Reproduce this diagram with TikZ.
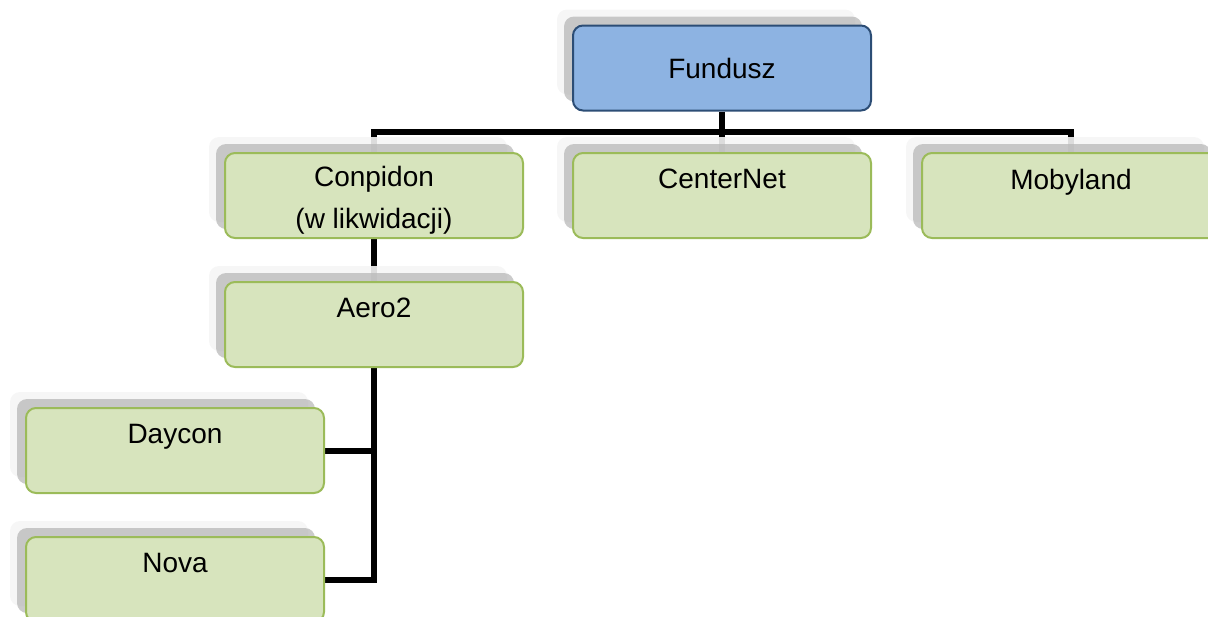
\documentclass[tikz,border=0pt]{standalone}
\usepackage{fontspec}
\setmainfont{Liberation Sans}
\usetikzlibrary{shadows,backgrounds}
\definecolor{fundfill}{HTML}{8DB3E2}
\definecolor{funddraw}{HTML}{2C4D75}
\definecolor{unitfill}{HTML}{D7E4BD}
\definecolor{unitdraw}{HTML}{9BBB59}
\tikzset{
 orgbox/.style={rounded corners=5pt,line width=1pt,inner sep=0pt,
   minimum width=149pt,minimum height=42.5pt,align=center,
   font=\fontsize{14pt}{21pt}\selectfont,
   general shadow={fill=gray!8,opacity=0.9,shadow xshift=-8pt,shadow yshift=8pt},
   general shadow={fill=gray!55,opacity=0.75,shadow xshift=-4.5pt,shadow yshift=4.5pt}},
 fund/.style={orgbox,fill=fundfill,draw=funddraw},
 unit/.style={orgbox,fill=unitfill,draw=unitdraw,text depth=16.5pt},
 conn/.style={line width=3pt,black}
}
\begin{document}
\begin{tikzpicture}[x=0.5pt,y=-0.5pt]
 \useasboundingbox (0,0) rectangle (1208,616);
 \node[fund] (fundusz) at (722,68) {Fundusz}; %root
 \node[unit,text height=35.5pt,text depth=3pt] (conpidon) at (374,195.5) {Conpidon\\(w likwidacji)};
 \node[unit] (centernet) at (722,195.5) {CenterNet};
 \node[unit] (mobyland) at (1071,195.5) {Mobyland};
 \node[unit] (aero) at (374,324.5) {Aero2};
 \node[unit] (daycon) at (175,450.5) {Daycon};
 \node[unit] (nova) at (175,579.5) {Nova};

 \begin{scope}[on background layer]
  \coordinate (bus) at (fundusz.south |- 0,132); %poziomy pasek
  \draw[conn] (fundusz.south) -- (bus) -| (conpidon.north);
  \draw[conn] (bus) -| (mobyland.north);
  \draw[conn] (bus) -- (centernet.north);
  \draw[conn] (conpidon.south) -- (aero.north);
  \draw[conn] (aero.south) |- (daycon.east);
  \draw[conn] (aero.south) |- (nova.east);
 \end{scope}
\end{tikzpicture}
\end{document}
